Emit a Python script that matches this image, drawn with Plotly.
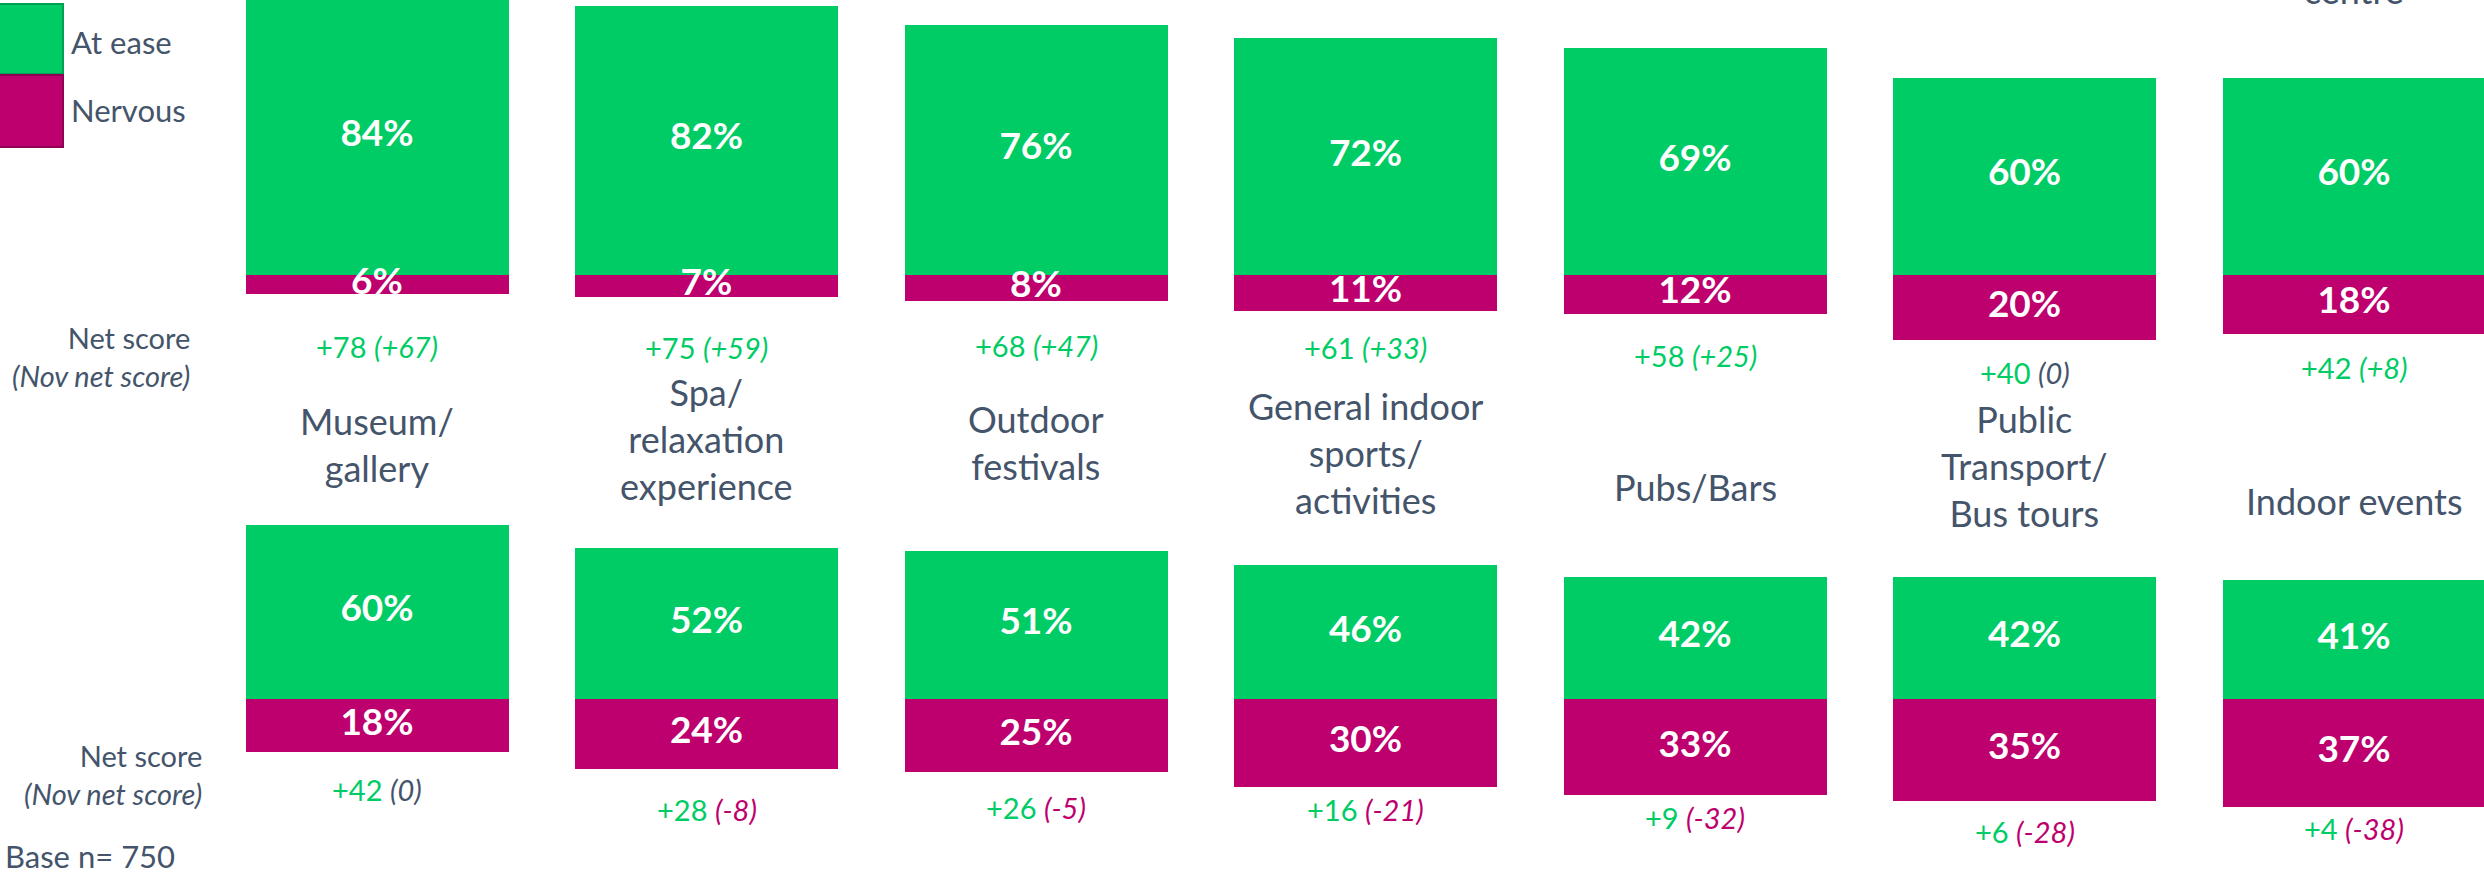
import plotly.graph_objects as go

# ---------------- data ----------------
cats_row1 = ["", "", "", "", "", "", "Shopping<br>centre"]
at_ease_row1 = [84, 82, 76, 72, 69, 60, 60]
nervous_row1 = [6, 7, 8, 11, 12, 20, 18]
net_row1 = [78, 75, 68, 61, 58, 40, 42]
nov_row1 = [67, 59, 47, 33, 25, 0, 8]

cats_row2 = ["Museum/<br>gallery", "Spa/<br>relaxation<br>experience", "Outdoor<br>festivals",
             "General indoor<br>sports/<br>activities", "Pubs/Bars",
             "Public<br>Transport/<br>Bus tours", "Indoor events"]
at_ease_row2 = [60, 52, 51, 46, 42, 42, 41]
nervous_row2 = [18, 24, 25, 30, 33, 35, 37]
net_row2 = [42, 28, 26, 16, 9, 6, 4]
nov_row2 = [0, -8, -5, -21, -32, -28, -38]

series_names = ["At ease", "Nervous"]
base_text = "Base n= 750"

# ---------------- style / layout ----------------
W, H = 2484, 872
GREEN = "#00CC66"
MAGENTA = "#BE006E"
SLATE = "#44546A"
FONT = "Lato"

X0_PX, PITCH, BAR_PX = 377, 329.5, 263
x_range = [-X0_PX / PITCH, (W - X0_PX) / PITCH]
bar_w = BAR_PX / PITCH

# per-row pixel geometry
#   lab_gap: px from bar top up to the category label box bottom
#   net_gap: px from bar bottom down to the net-score label centre
geom = [
    dict(zero=274.5, ppu=3.28, top=0, bot=380,
         lab_gap=[60, 60, 60, 60, 60, 60, 64],
         net_gap=[52, 50, 45, 37, 42, 32, 34]),
    dict(zero=699.3, ppu=2.91, top=390, bot=872,
         lab_gap=[33, 38, 61, 41, 66, 40, 55],
         net_gap=[38, 40, 35, 23, 22, 30, 22]),
]

rows = [
    dict(cats=cats_row1, ease=at_ease_row1, nerv=nervous_row1, net=net_row1, nov=nov_row1),
    dict(cats=cats_row2, ease=at_ease_row2, nerv=nervous_row2, net=net_row2, nov=nov_row2),
]

fig = go.Figure()
annotations = []
layout_axes = {}

for r, (row, g) in enumerate(zip(rows, geom)):
    xa = "x" if r == 0 else "x2"
    ya = "y" if r == 0 else "y2"
    idx = list(range(len(row["ease"])))
    lo = -(g["bot"] - g["zero"]) / g["ppu"]
    hi = (g["zero"] - g["top"]) / g["ppu"]
    dom = [1 - g["bot"] / H, 1 - g["top"] / H]
    axkey = "" if r == 0 else "2"
    layout_axes["xaxis" + axkey] = dict(range=x_range, domain=[0, 1], visible=False,
                                        anchor=ya, fixedrange=True)
    layout_axes["yaxis" + axkey] = dict(range=[lo, hi], domain=dom, visible=False,
                                        anchor=xa, fixedrange=True)

    fig.add_trace(go.Bar(x=idx, y=row["ease"], width=bar_w, marker_color=GREEN,
                         marker_line_width=0, name=series_names[0], showlegend=False,
                         xaxis=xa, yaxis=ya, hoverinfo="skip"))
    fig.add_trace(go.Bar(x=idx, y=[-v for v in row["nerv"]], width=bar_w, marker_color=MAGENTA,
                         marker_line_width=0, name=series_names[1], showlegend=False,
                         xaxis=xa, yaxis=ya, hoverinfo="skip"))
    fig.add_trace(go.Scatter(x=idx, y=[v / 2 for v in row["ease"]], mode="text",
                             text=[f"<b>{v}%</b>" for v in row["ease"]],
                             textfont=dict(family=FONT, size=37, color="white"),
                             showlegend=False, xaxis=xa, yaxis=ya, hoverinfo="skip"))
    fig.add_trace(go.Scatter(x=idx, y=[-v / 2 for v in row["nerv"]], mode="text",
                             text=[f"<b>{v}%</b>" for v in row["nerv"]],
                             textfont=dict(family=FONT, size=37, color="white"),
                             showlegend=False, xaxis=xa, yaxis=ya, hoverinfo="skip"))

    for i in idx:
        if row["cats"][i]:
            annotations.append(dict(
                x=i, y=row["ease"][i] + g["lab_gap"][i] / g["ppu"], xref=xa, yref=ya,
                text=row["cats"][i], showarrow=False, xanchor="center", yanchor="bottom",
                align="center", font=dict(family=FONT, size=36, color=SLATE)))
        ny = -row["nerv"][i] - g["net_gap"][i] / g["ppu"]
        nv = row["nov"][i]
        nov_col = GREEN if nv > 0 else (MAGENTA if nv < 0 else SLATE)
        nov_txt = f"{nv:+d}" if nv != 0 else "0"
        annotations.append(dict(
            x=i, y=ny, xref=xa, yref=ya,
            text=f"<span style='color:{GREEN}'>+{row['net'][i]}</span> "
                 f"<span style='color:{nov_col}'><i>({nov_txt})</i></span>",
            showarrow=False, xanchor="center", yanchor="middle",
            font=dict(family=FONT, size=29, color=GREEN)))

for xr, yc in [(192, 356), (204, 774)]:
    annotations.append(dict(
        x=xr / W, y=1 - yc / H, xref="paper", yref="paper",
        text="Net score<br><i>(Nov net score)</i>", showarrow=False,
        xanchor="right", yanchor="middle", align="right",
        font=dict(family=FONT, size=29, color=SLATE)))

shapes = [
    dict(type="rect", xref="paper", yref="paper", x0=-10 / W, x1=63 / W,
         y0=1 - 74 / H, y1=1 - 4 / H, fillcolor=GREEN, line=dict(color="#00A052", width=2)),
    dict(type="rect", xref="paper", yref="paper", x0=-10 / W, x1=63 / W,
         y0=1 - 147 / H, y1=1 - 75 / H, fillcolor=MAGENTA, line=dict(color="#8E0052", width=2)),
]
for name, yc in zip(series_names, [42, 110]):
    annotations.append(dict(
        x=69 / W, y=1 - yc / H, xref="paper", yref="paper", text=name, showarrow=False,
        xanchor="left", yanchor="middle", font=dict(family=FONT, size=31, color=SLATE)))

annotations.append(dict(
    x=3 / W, y=1 - 856 / H, xref="paper", yref="paper", text=base_text, showarrow=False,
    xanchor="left", yanchor="middle", font=dict(family=FONT, size=31, color=SLATE)))

fig.update_layout(
    width=W, height=H, margin=dict(l=0, r=0, t=0, b=0),
    paper_bgcolor="white", plot_bgcolor="white",
    barmode="relative", bargap=0, showlegend=False,
    annotations=annotations, shapes=shapes,
    font=dict(family=FONT, color=SLATE),
    **layout_axes,
)

fig.write_html(
    "out.html",
    config={"displayModeBar": False, "staticPlot": True},
    post_script="document.body.style.margin='0';document.body.style.padding='0';"
                "document.documentElement.style.overflow='hidden';",
)
